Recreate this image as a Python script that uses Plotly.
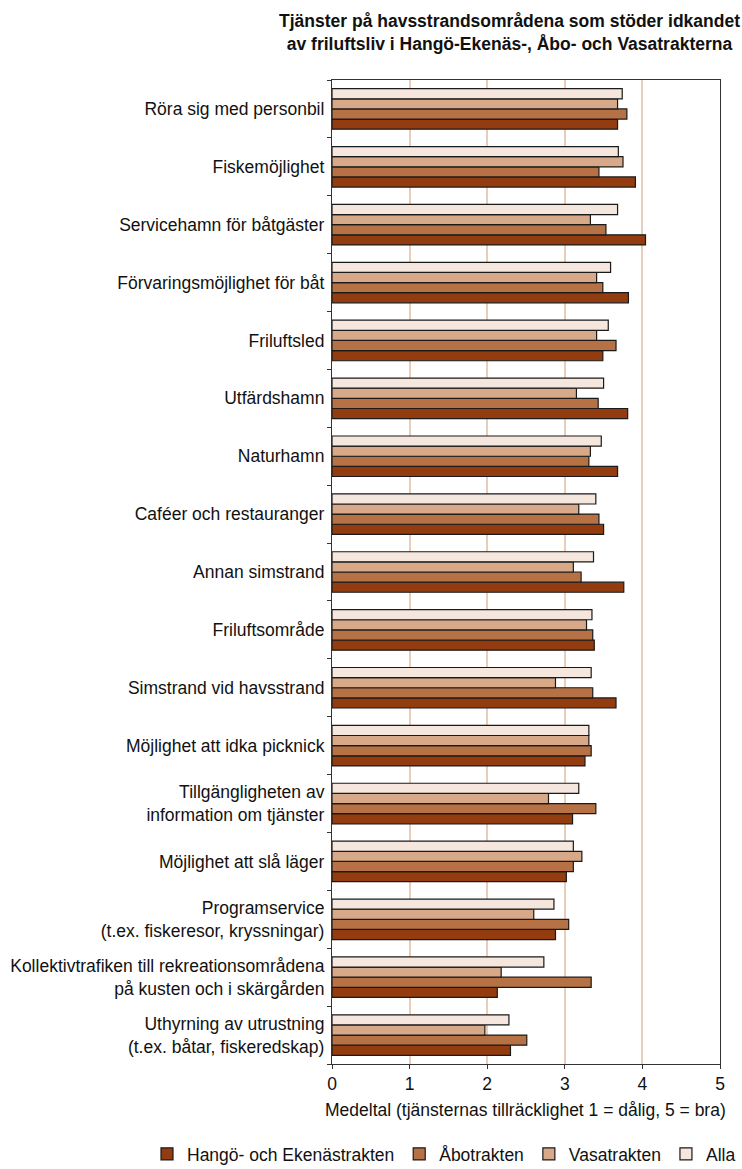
import plotly.graph_objects as go

categories = [
    "Röra sig med personbil",
    "Fiskemöjlighet",
    "Servicehamn för båtgäster",
    "Förvaringsmöjlighet för båt",
    "Friluftsled",
    "Utfärdshamn",
    "Naturhamn",
    "Caféer och restauranger",
    "Annan simstrand",
    "Friluftsområde",
    "Simstrand vid havsstrand",
    "Möjlighet att idka picknick",
    "Tillgängligheten av<br>information om tjänster",
    "Möjlighet att slå läger",
    "Programservice<br>(t.ex. fiskeresor, kryssningar)",
    "Kollektivtrafiken till rekreationsområdena<br>på kusten och i skärgården",
    "Uthyrning av utrustning<br>(t.ex. båtar, fiskeredskap)",
]

hango = [3.68, 3.91, 4.04, 3.82, 3.49, 3.81, 3.68, 3.50, 3.76, 3.38, 3.66, 3.26, 3.10, 3.02, 2.88, 2.13, 2.30]
abo   = [3.80, 3.44, 3.53, 3.49, 3.66, 3.43, 3.31, 3.44, 3.21, 3.36, 3.36, 3.34, 3.40, 3.11, 3.05, 3.34, 2.51]
vasa  = [3.68, 3.75, 3.33, 3.41, 3.41, 3.15, 3.33, 3.18, 3.11, 3.28, 2.88, 3.31, 2.79, 3.22, 2.60, 2.18, 1.97]
alla  = [3.74, 3.69, 3.68, 3.59, 3.56, 3.50, 3.47, 3.40, 3.37, 3.35, 3.34, 3.31, 3.18, 3.11, 2.86, 2.73, 2.28]

series_names = ["Hangö- och Ekenästrakten", "Åbotrakten", "Vasatrakten", "Alla"]
series_values = [hango, abo, vasa, alla]
series_colors = ["#923C10", "#B67244", "#D8A988", "#F5E7DE"]

x_ticks = [0, 1, 2, 3, 4, 5]

title_text = ("<b>Tjänster på havsstrandsområdena som stöder idkandet<br>"
              "av friluftsliv i Hangö-Ekenäs-, Åbo- och Vasatrakterna</b>")
x_title = "Medeltal (tjänsternas tillräcklighet 1 = dålig, 5 = bra)"

FONT = "Liberation Sans, Arial, Helvetica, sans-serif"
FS = 17.5

# plot area in pixels
L, R, T, B = 332, 720, 80, 1064
W, H = 742, 1169
PW, PH = R - L, B - T

def px_x(px):
    return (px - L) / PW

def px_y(py):
    return (B - py) / PH

fig = go.Figure()
for name, vals, col in zip(series_names, series_values, series_colors):
    fig.add_trace(go.Bar(
        y=categories, x=vals, name=name, orientation="h",
        marker=dict(color=col, line=dict(color="#1a1a1a", width=1.2)),
    ))

fig.update_layout(
    width=W, height=H,
    margin=dict(l=L, r=W - R, t=T, b=H - B, autoexpand=False),
    paper_bgcolor="white", plot_bgcolor="white",
    barmode="group", bargap=0.30, bargroupgap=0.0,
    font=dict(family=FONT, size=FS, color="#111111"),
    showlegend=True,
    legend=dict(orientation="h", xref="paper", yref="paper",
                x=px_x(147), xanchor="left", y=px_y(1136), yanchor="top",
                font=dict(size=FS), itemwidth=30, traceorder="normal",
                bgcolor="rgba(0,0,0,0)"),
    annotations=[
        dict(text=title_text, xref="paper", yref="paper",
             x=px_x(509), y=px_y(33), xanchor="center", yanchor="middle",
             align="center", showarrow=False,
             font=dict(size=FS, family=FONT, color="#111111")),
        dict(text=x_title, xref="paper", yref="paper",
             x=px_x(525), y=px_y(1110), xanchor="center", yanchor="middle",
             showarrow=False, font=dict(size=FS, family=FONT, color="#111111")),
    ],
)

fig.update_xaxes(
    range=[0, 5], tickvals=x_ticks, ticktext=[str(t) for t in x_ticks],
    showgrid=True, gridcolor="#E8CDBB", gridwidth=1.5,
    showline=True, linecolor="#333333", linewidth=1.2, mirror=True,
    ticks="outside", ticklen=4, tickcolor="#333333",
    zeroline=False, tickfont=dict(size=FS),
)
fig.update_yaxes(
    type="category", categoryorder="array", categoryarray=categories[::-1],
    showline=True, linecolor="#333333", linewidth=1.2, mirror=True,
    ticks="outside", ticklen=4, tickcolor="#333333", tickson="boundaries",
    showgrid=False, tickfont=dict(size=FS), ticklabelstandoff=3,
)

fig.write_html("out.html", config={"displayModeBar": False},
               post_script="document.body.style.margin='0px';")
